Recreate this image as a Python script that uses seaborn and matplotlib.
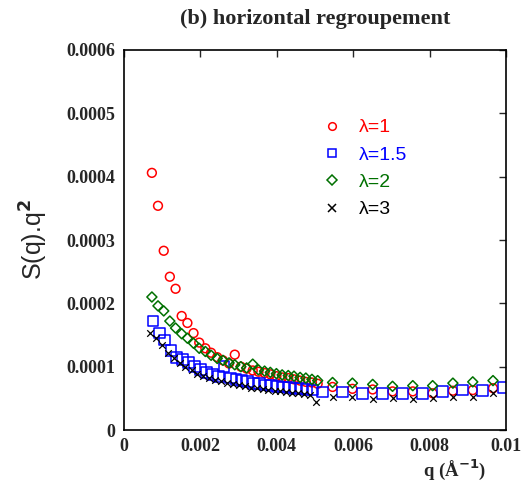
import numpy as np
import pandas as pd
import matplotlib
matplotlib.use("Agg")
import matplotlib.pyplot as plt
import seaborn as sns

# q values (1/A)
q_dense = [0.00073, 0.00089, 0.00104, 0.00120, 0.00135, 0.00151, 0.00166, 0.00182,
           0.00197, 0.00213, 0.00228, 0.00244, 0.00259, 0.00275, 0.00290, 0.00306,
           0.00321, 0.00337, 0.00352, 0.00368, 0.00383, 0.00399, 0.00414, 0.00430,
           0.00445, 0.00461, 0.00476, 0.00492, 0.00507]
q_sparse = [0.00546, 0.00598, 0.00651, 0.00703, 0.00756, 0.00808, 0.00861, 0.00913, 0.00966]

q_blue = [0.00076, 0.00092, 0.00107, 0.00123, 0.00138, 0.00154, 0.00169, 0.00185,
          0.00200, 0.00216, 0.00231, 0.00247, 0.00262, 0.00278, 0.00293, 0.00309,
          0.00324, 0.00340, 0.00355, 0.00371, 0.00386, 0.00402, 0.00417, 0.00433,
          0.00448, 0.00464, 0.00479, 0.00495,
          0.00520, 0.00572, 0.00624, 0.00677, 0.00729, 0.00782, 0.00834, 0.00887,
          0.00939, 0.00992]
q_black = [0.00068, 0.00084, 0.00099, 0.00115, 0.00130, 0.00146, 0.00161, 0.00177,
           0.00192, 0.00208, 0.00223, 0.00239, 0.00254, 0.00270, 0.00285, 0.00301,
           0.00316, 0.00332, 0.00347, 0.00363, 0.00378, 0.00394, 0.00409, 0.00425,
           0.00440, 0.00456, 0.00471, 0.00487, 0.00502]

# S(q).q^2
s_l1 = [0.000406, 0.000354, 0.000283, 0.000242, 0.000223, 0.000180, 0.000169, 0.000153,
        0.000138, 0.000129, 0.000122, 0.000115, 0.000110, 0.000105, 0.000119, 0.000100,
        0.000097, 0.000094, 0.000092, 0.000090, 0.000088, 0.000085, 0.000083, 0.000082,
        0.000080, 0.000078, 0.000076, 0.000075, 0.000073,
        0.000068, 0.000065, 0.000064, 0.000061, 0.000061, 0.000058, 0.000062, 0.000063,
        0.000066]
s_l15 = [0.000172, 0.000153, 0.000142, 0.000126, 0.000115, 0.000111, 0.000106, 0.000100,
         0.000095, 0.000091, 0.000088, 0.000085, 0.000100, 0.000082, 0.000080, 0.000078,
         0.000076, 0.000074, 0.000073, 0.000071, 0.000070, 0.000069, 0.000068, 0.000067,
         0.000066, 0.000065, 0.000064, 0.000063,
         0.000060, 0.000060, 0.000058, 0.000058, 0.000058, 0.000058, 0.000061, 0.000063,
         0.000062, 0.000067]
s_l2 = [0.000210, 0.000196, 0.000188, 0.000172, 0.000161, 0.000152, 0.000145, 0.000137,
        0.000129, 0.000124, 0.000118, 0.000113, 0.000110, 0.000106, 0.000103, 0.000100,
        0.000098, 0.000104, 0.000095, 0.000093, 0.000091, 0.000089, 0.000087, 0.000086,
        0.000085, 0.000083, 0.000082, 0.000080, 0.000078,
        0.000075, 0.000074, 0.000072, 0.000069, 0.000070, 0.000070, 0.000074, 0.000076,
        0.000078]
s_l3 = [0.000153, 0.000145, 0.000134, 0.000122, 0.000113, 0.000106, 0.000099, 0.000094,
        0.000089, 0.000085, 0.000082, 0.000079, 0.000077, 0.000075, 0.000073, 0.000071,
        0.000069, 0.000067, 0.000066, 0.000064, 0.000063, 0.000062, 0.000061, 0.000060,
        0.000059, 0.000058, 0.000057, 0.000056, 0.000044,
        0.000052, 0.000052, 0.000049, 0.000050, 0.000049, 0.000050, 0.000052, 0.000052,
        0.000058]

labels = ["λ=1", "λ=1.5", "λ=2", "λ=3"]
colors = ["#ff0000", "#0000ff", "#007000", "#000000"]

df = pd.concat([
    pd.DataFrame({"q": q_dense + q_sparse, "s": s_l1, "serie": labels[0]}),
    pd.DataFrame({"q": q_blue, "s": s_l15, "serie": labels[1]}),
    pd.DataFrame({"q": q_dense + q_sparse, "s": s_l2, "serie": labels[2]}),
    pd.DataFrame({"q": q_black + q_sparse, "s": s_l3, "serie": labels[3]}),
], ignore_index=True)

sns.set_style("white")
plt.rcParams["font.family"] = ["Liberation Serif", "DejaVu Serif"]

fig = plt.figure(figsize=(5.29, 4.95), dpi=100)
ax = fig.add_axes([0.2344, 0.1313, 0.7221, 0.7677])

# un marqueur par serie
styles = {
    labels[0]: dict(marker="o", s=40),
    labels[1]: dict(marker="s", s=60),
    labels[2]: dict(marker="D", s=26),
    labels[3]: dict(marker="x", s=22),
}
handles = []
for lab, col in zip(labels, colors):
    sub = df[df["serie"] == lab]
    st = styles[lab]
    if st["marker"] == "x":
        sns.scatterplot(x="q", y="s", data=sub, ax=ax, marker="x", s=st["s"],
                        color=col, linewidth=0.9, label=lab, legend=False)
    else:
        sns.scatterplot(x="q", y="s", data=sub, ax=ax, marker=st["marker"], s=st["s"],
                        facecolors="none", edgecolor=col, linewidth=1.1, label=lab,
                        legend=False)
    handles.append(plt.Line2D([], [], marker=st["marker"], linestyle="none",
                              markerfacecolor="none", markeredgecolor=col,
                              markersize=5.5, markeredgewidth=1.1))

ax.set_xlim(0, 0.01)
ax.set_ylim(0, 0.0006)
ax.set_xticks([0, 0.002, 0.004, 0.006, 0.008, 0.01])
ax.set_xticklabels(["0", "0.002", "0.004", "0.006", "0.008", "0.01"])
ax.set_yticks([0, 0.0001, 0.0002, 0.0003, 0.0004, 0.0005, 0.0006])
ax.set_yticklabels(["0", "0.0001", "0.0002", "0.0003", "0.0004", "0.0005", "0.0006"])
ax.tick_params(direction="in", top=True, right=True, length=5, width=1,
               labelsize=13, pad=6)
for t in ax.get_xticklabels() + ax.get_yticklabels():
    t.set_fontweight("bold")
for sp in ax.spines.values():
    sp.set_linewidth(1.2)
    sp.set_color("black")

ax.set_xlabel("")
ax.set_ylabel("S(q).q$^{\\mathbf{2}}$", fontsize=18, family=["Liberation Sans", "DejaVu Sans"],
              labelpad=12)
ax.text(0.866, -0.105, "q (Å$^{\\mathbf{-1}}$)", transform=ax.transAxes, ha="center",
        va="center", fontsize=13.5, fontweight="bold")
fig.text(0.595, 0.962, "(b) horizontal regroupement", ha="center", va="center",
         fontsize=16, fontweight="bold")

leg = ax.legend(handles, labels, loc="upper left", bbox_to_anchor=(0.472, 0.865),
                frameon=False, labelcolor=colors, handlelength=1.0,
                handletextpad=0.9, labelspacing=0.5,
                prop={"family": ["Liberation Sans", "DejaVu Sans"], "size": 14})

fig.savefig("out.png", dpi=100)
